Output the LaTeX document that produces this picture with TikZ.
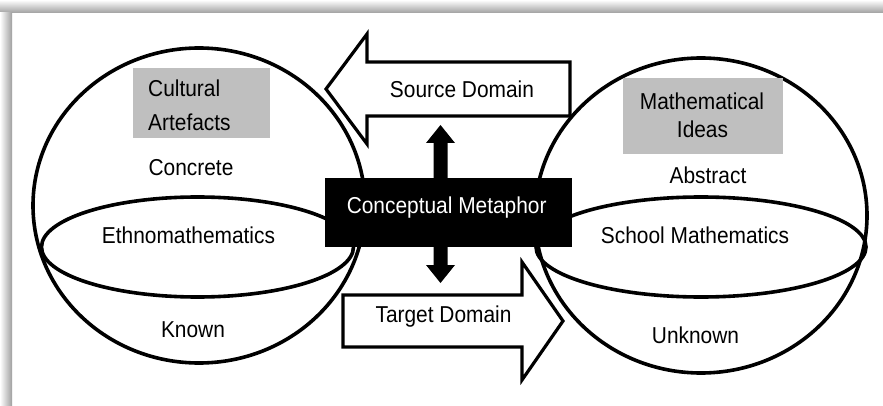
\documentclass[tikz,border=0pt]{standalone}
\usepackage{fontspec}
\setmainfont{Liberation Sans}
\usepackage{graphicx}
\usetikzlibrary{shapes.geometric,calc}
\newcommand{\talltxt}[1]{\scalebox{1}[1.1]{#1}}
\begin{document}
\begin{tikzpicture}[x=1pt,y=-1pt,
  sphere/.style={draw=black, line width=3.6pt, ellipse, inner sep=0pt, outer sep=0pt},
  blockarrow/.style={draw=black, fill=white, line width=3.2pt, line join=miter},
  smallarrow/.style={fill=black},
  lbl/.style={anchor=base, inner sep=0pt, font=\fontsize{20.9}{25}\selectfont},
  graybox/.style={fill=gray!50, draw=none, inner sep=0pt, outer sep=0pt},
  metabox/.style={fill=black, draw=none, inner sep=0pt, outer sep=0pt}]
\useasboundingbox (0,0) rectangle (883,406);
\fill[white] (0,0) rectangle (883,406);
% frame shadow
\shade[top color=white, bottom color=gray!75] (0,0) rectangle (883,13);
\shade[left color=white, right color=gray!75] (0,13) rectangle (12,406);
% spheres
\node[sphere, minimum width=332pt, minimum height=315pt] (lsph) at (199,205.5) {};
\node[sphere, minimum width=312pt, minimum height=100pt] (leq) at (197.5,247) {};
\node[sphere, minimum width=332pt, minimum height=315pt] (rsph) at (701,215.5) {};
\node[sphere, minimum width=330pt, minimum height=100pt] (req) at (701,247) {};
% gray boxes
\path[graybox] (133,68) rectangle (270,138);
\path[graybox] (623,78) rectangle (783,154);
% big block arrows
\draw[blockarrow] (570,62) -- (367,62) -- (367,34) -- (326,89) -- (367,144) -- (367,116) -- (570,116) -- cycle;
\draw[blockarrow] (343,295) -- (522,295) -- (522,262) -- (563,321) -- (522,380) -- (522,347) -- (343,347) -- cycle;
% central box
\node[metabox, minimum width=247pt, minimum height=69pt] (cm) at (448.5,212.5) {};
\coordinate (upbase) at (440.5,180);
\coordinate (dnbase) at (440.5,245);
\fill[smallarrow] ($(upbase)+(-7,0)$) -- ++(0,-37) -- ++(-7.5,0) -- (440.5,125) -- (455,143) -- (447.5,143) -- ($(upbase)+(7,0)$) -- cycle;
\fill[smallarrow] ($(dnbase)+(-7,0)$) -- ++(0,20) -- ++(-7.5,0) -- (440.5,283) -- (455,265) -- (447.5,265) -- ($(dnbase)+(7,0)$) -- cycle;
% labels
\node[lbl, anchor=base west] (cult) at (148,97) {\talltxt{Cultural}};
\begin{scope}
\clip (0,0) rectangle (883,130.5);
\node[lbl, anchor=base west] (arte) at (148,131) {\talltxt{Artefacts}};
\end{scope}
\node[lbl] (math) at (702,110) {\talltxt{Mathematical}};
\node[lbl] (ideas) at (702.5,138) {\talltxt{Ideas}};
\node[lbl] (conc) at (191,176) {\talltxt{Concrete}};
\node[lbl] (abst) at (708,184) {\talltxt{Abstract}};
\node[lbl] (ethno) at (188.5,243) {\talltxt{Ethnomathematics}};
\node[lbl] (school) at (695,243) {\talltxt{School Mathematics}};
\node[lbl] (known) at (193,337) {\talltxt{Known}};
\node[lbl] (unknown) at (695.5,343) {\talltxt{Unknown}};
\node[lbl] (source) at (462,98) {\talltxt{Source Domain}};
\node[lbl] (target) at (443.5,322) {\talltxt{Target Domain}};
\node[lbl, text=white] (cmtext) at (446.7,213) {\talltxt{Conceptual Metaphor}};
\end{tikzpicture}
\end{document}
